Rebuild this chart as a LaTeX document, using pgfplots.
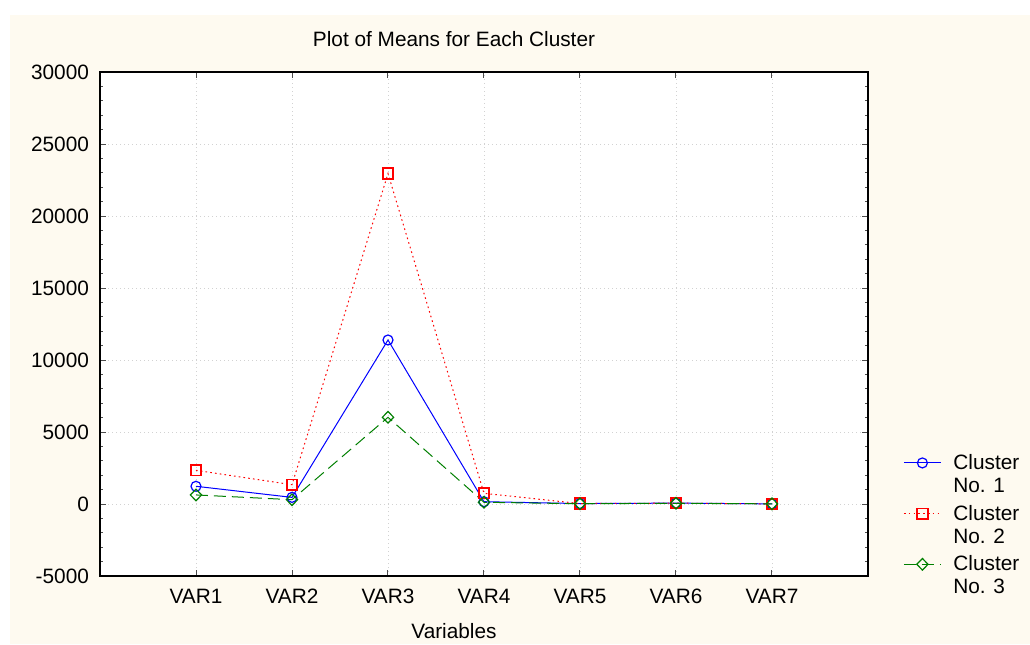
\documentclass[border=0pt]{standalone}
\usepackage{fontspec}
\setmainfont{Liberation Sans}
\usepackage{pgfplots}
\pgfplotsset{compat=1.18}
\definecolor{cream}{RGB}{254,250,240}
\definecolor{gblue}{RGB}{0,0,255}
\definecolor{gred}{RGB}{255,0,0}
\definecolor{ggreen}{RGB}{0,128,0}
\begin{document}
\begin{tikzpicture}[x=1pt,y=1pt]
\useasboundingbox (0,0) rectangle (515,322);
\fill[white] (0,0) rectangle (515,322);
\fill[cream] (5,0) rectangle (515,314.5);
\node[font=\fontsize{10.4}{12}\selectfont] at (227,302.5) {Plot of Means for Each Cluster};
\node[font=\fontsize{10.4}{12}\selectfont] at (227,6.5) {Variables};
\begin{axis}[
  at={(50pt,34pt)}, anchor=south west,
  scale only axis, width=384pt, height=252pt,
  axis background/.style={fill=white},
  xmin=0, xmax=8, ymin=-5000, ymax=30000,
  xtick={1,2,3,4,5,6,7},
  xticklabels={VAR1,VAR2,VAR3,VAR4,VAR5,VAR6,VAR7},
  ytick={-5000,0,5000,10000,15000,20000,25000,30000},
  minor y tick num=4,
  scaled y ticks=false,
  /pgf/number format/1000 sep={},
  /pgf/number format/assume math mode=true,
  ticklabel style={font=\fontsize{10.4}{12}\selectfont},
  xticklabel style={yshift=-3pt},
  yticklabel style={xshift=-2pt},
  tick align=inside,
  major tick length=3pt, minor tick length=1.5pt,
  tick style={black!70, line width=0.5pt},
  axis line style={black, line width=0.7pt},
  xmajorgrids, ymajorgrids,
  major grid style={gray!35, dash pattern=on 0.5pt off 1.5pt, line width=0.4pt},
  legend style={at={(1.0456,0.25)}, anchor=north west, draw=none, fill=none,
    font=\fontsize{10.4}{11.5}\selectfont, cells={align=left, anchor=west},
    row sep=0.8pt, inner sep=0pt,
    /tikz/every odd column/.style={column sep=4pt}},
  legend image code/.code={
    \draw[yshift=6pt,mark repeat=2,mark phase=2] plot coordinates {(0pt,0pt) (9.25pt,0pt) (18.5pt,0pt)};
  },
  clip=false,
]
\addplot[gblue, line width=0.5pt, mark=o, mark size=2.5pt, mark options={solid, line width=0.6pt}]
  coordinates {(1,1230) (2,460) (3,11390) (4,160) (5,30) (6,60) (7,10)};
\addlegendentry{Cluster\\No. 1}
\addplot[gred, line width=0.5pt, dash pattern=on 0.8pt off 1.6pt, mark=square, mark size=2.6pt, mark options={solid, line width=0.9pt}]
  coordinates {(1,2340) (2,1340) (3,22950) (4,740) (5,30) (6,60) (7,10)};
\addlegendentry{Cluster\\No. 2}
\addplot[ggreen, line width=0.5pt, dash pattern=on 6pt off 3pt, mark=diamond, mark size=2.9pt, mark options={solid, line width=0.6pt, xscale=1.3}]
  coordinates {(1,630) (2,300) (3,6020) (4,120) (5,20) (6,50) (7,10)};
\addlegendentry{Cluster\\No. 3}
\end{axis}
\end{tikzpicture}
\end{document}
